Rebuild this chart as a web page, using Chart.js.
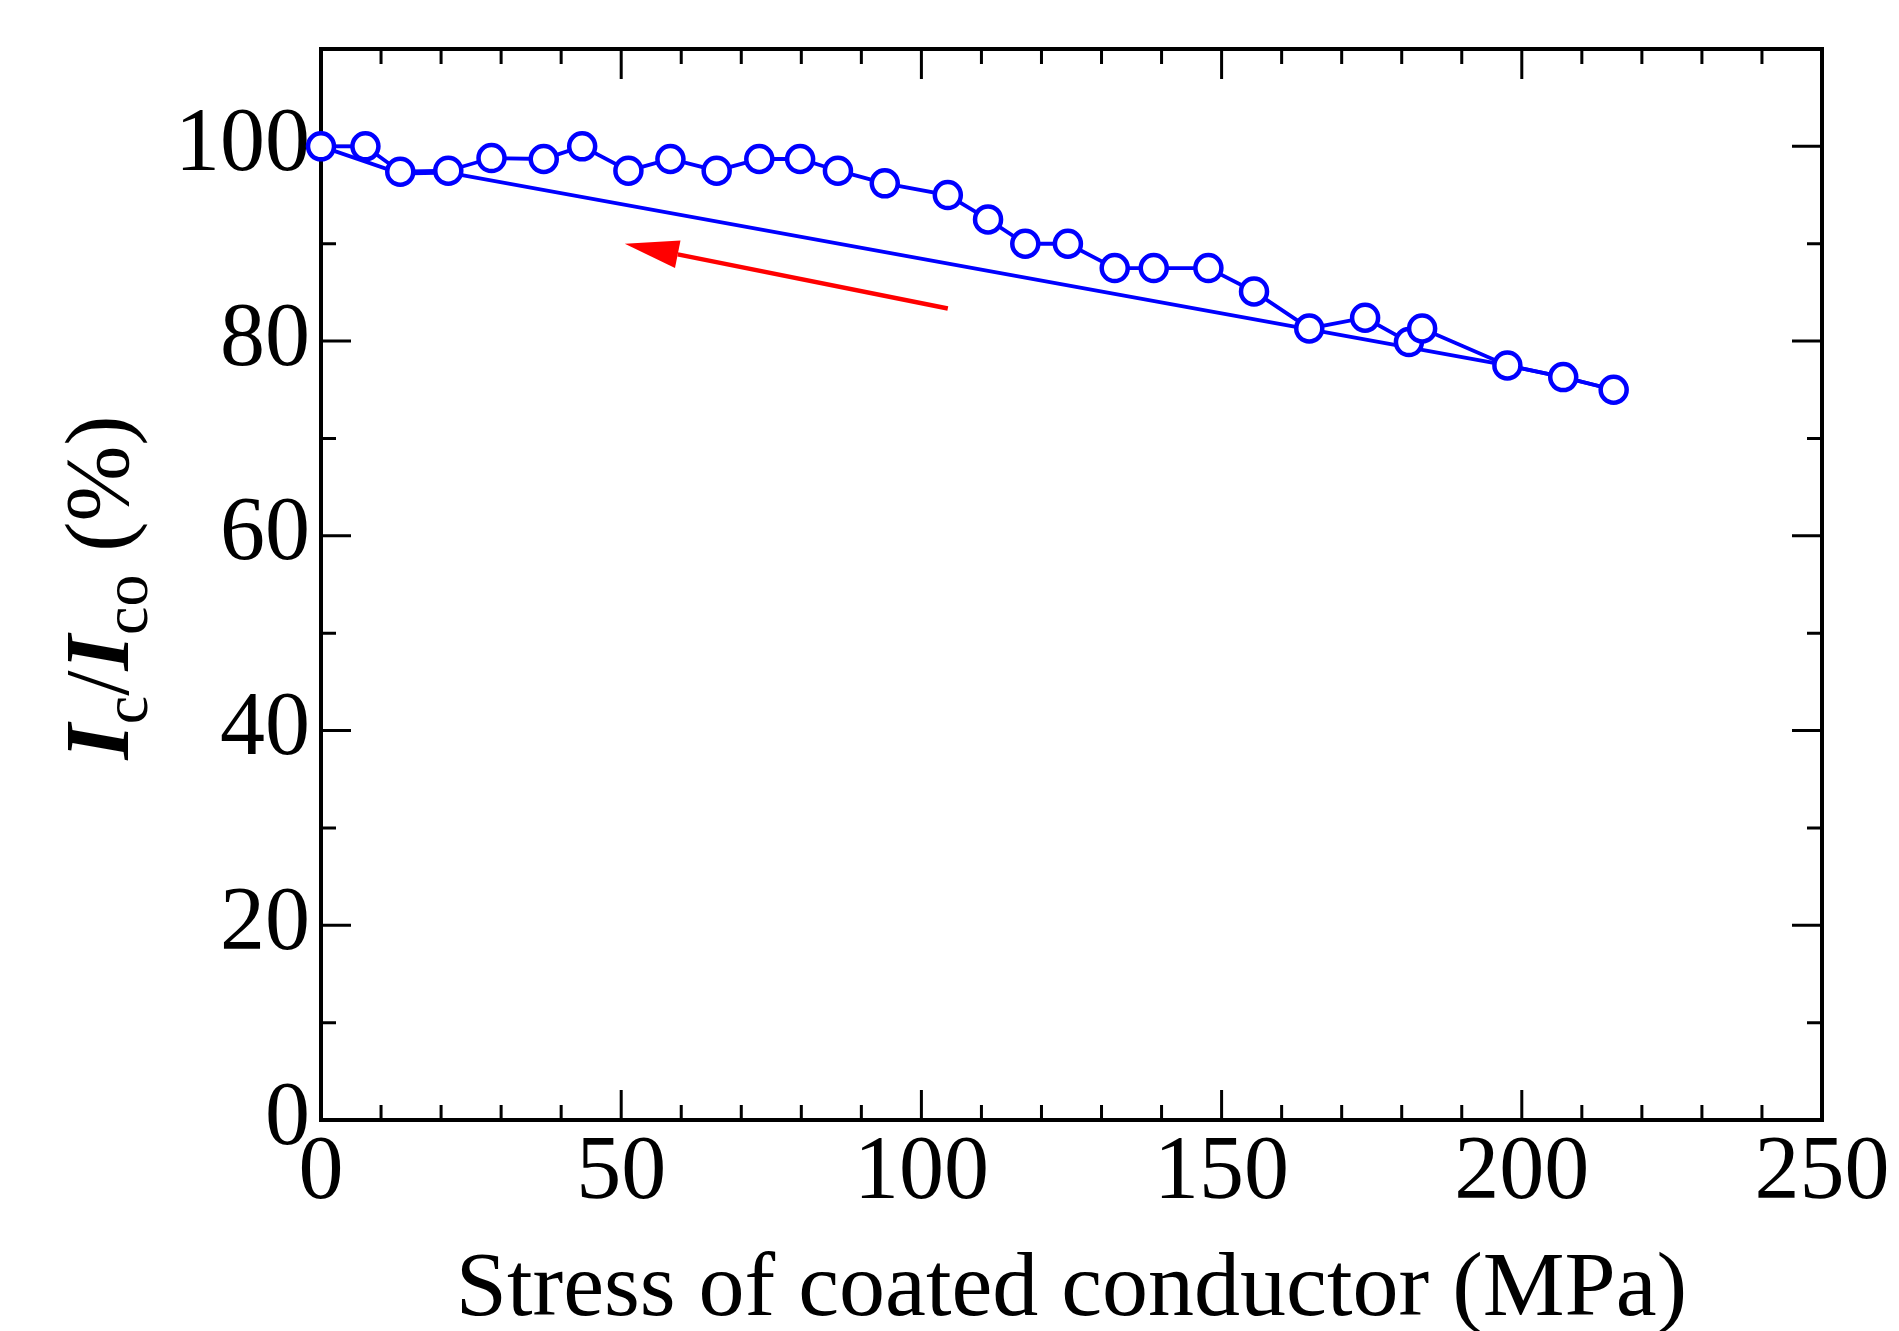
<!DOCTYPE html>
<html lang="en">
<head>
<meta charset="UTF-8">
<title>Ic/Ico vs stress of coated conductor</title>
<script src="https://cdn.jsdelivr.net/npm/chart.js"></script>
<style>
    html, body { margin: 0; padding: 0; background: #fff; overflow: hidden; }
    #chart { display: block; }
</style>
</head>
<body>
<canvas id="chart" width="1899" height="1331"></canvas>
<script>
    // loading branch (circles)
    const loadStress = [0, 7.4, 13.2, 21.2, 28.4, 37.1, 43.5, 51.2, 58.2, 65.9,
                        73.0, 79.8, 86.1, 93.9, 104.4, 111.1, 117.3, 124.4, 132.2, 138.7,
                        147.8, 155.4, 164.6, 173.9, 181.2, 183.4, 197.6, 206.9, 215.3];
    const loadIc = [100, 100, 97.4, 97.5, 98.8, 98.7, 100, 97.5, 98.7, 97.5,
                    98.7, 98.7, 97.5, 96.2, 95.0, 92.5, 90.0, 90.0, 87.5, 87.5,
                    87.5, 85.1, 81.3, 82.4, 79.9, 81.3, 77.5, 76.3, 75.0];
    // unloading branch (line only)
    const unloadStress = [215.3, 206.9, 197.6, 21.2, 13.2, 0];
    const unloadIc = [75.0, 76.3, 77.5, 97.3, 97.2, 100];

    // red arrow, in data units [stress, Ic]
    const arrowFrom = [104.4, 83.35];
    const arrowTo = [50.6, 90.0];

    const xMajorTicks = [0, 50, 100, 150, 200, 250];
    const xMinorTicks = [10, 20, 30, 40, 60, 70, 80, 90, 110, 120, 130, 140, 160, 170, 180, 190, 210, 220, 230, 240];
    const yMajorTicks = [0, 20, 40, 60, 80, 100];
    const yMinorTicks = [10, 30, 50, 70, 90];

    const serif = '"Liberation Serif", "Times New Roman", serif';

    // box with inward ticks on all four sides
    const frameTicks = {
        id: 'frameTicks',
        beforeDatasetsDraw(chart) {
            const { ctx, chartArea: a, scales: { x, y } } = chart;
            ctx.save();
            ctx.strokeStyle = '#000';
            ctx.lineWidth = 3;
            ctx.beginPath();
            const xt = (list, len) => list.forEach(v => {
                const px = x.getPixelForValue(v);
                ctx.moveTo(px, a.bottom); ctx.lineTo(px, a.bottom - len);
                ctx.moveTo(px, a.top); ctx.lineTo(px, a.top + len);
            });
            const yt = (list, len) => list.forEach(v => {
                const py = y.getPixelForValue(v);
                ctx.moveTo(a.left, py); ctx.lineTo(a.left + len, py);
                ctx.moveTo(a.right, py); ctx.lineTo(a.right - len, py);
            });
            xt(xMajorTicks, 30); xt(xMinorTicks, 15);
            yt(yMajorTicks, 30); yt(yMinorTicks, 15);
            ctx.stroke();
            ctx.lineWidth = 4;
            ctx.strokeRect(a.left, a.top, a.right - a.left, a.bottom - a.top);
            ctx.restore();
        }
    };

    const redArrow = {
        id: 'redArrow',
        afterDatasetsDraw(chart) {
            const { ctx, scales: { x, y } } = chart;
            const x0 = x.getPixelForValue(arrowFrom[0]), y0 = y.getPixelForValue(arrowFrom[1]);
            const x1 = x.getPixelForValue(arrowTo[0]), y1 = y.getPixelForValue(arrowTo[1]);
            const ang = Math.atan2(y1 - y0, x1 - x0);
            const headLen = 54, headHalf = 14;
            const bx = x1 - headLen * Math.cos(ang), by = y1 - headLen * Math.sin(ang);
            ctx.save();
            ctx.strokeStyle = '#ff0000';
            ctx.fillStyle = '#ff0000';
            ctx.lineWidth = 4.5;
            ctx.beginPath();
            ctx.moveTo(x0, y0);
            ctx.lineTo(bx, by);
            ctx.stroke();
            ctx.beginPath();
            ctx.moveTo(x1, y1);
            ctx.lineTo(bx + headHalf * Math.sin(ang), by - headHalf * Math.cos(ang));
            ctx.lineTo(bx - headHalf * Math.sin(ang), by + headHalf * Math.cos(ang));
            ctx.closePath();
            ctx.fill();
            ctx.restore();
        }
    };

    // y title with italic I and subscripts: I_c/I_co (%)
    const yTitle = {
        id: 'yTitle',
        afterDraw(chart) {
            const { ctx, chartArea: a } = chart;
            const parts = [
                { t: 'I', f: 'italic bold 91px ' + serif, dy: 0 },
                { t: 'c', f: '64px ' + serif, dy: 19 },
                { t: '/', f: '91px ' + serif, dy: 0 },
                { t: 'I', f: 'italic bold 91px ' + serif, dy: 0 },
                { t: 'co', f: '64px ' + serif, dy: 19 },
                { t: ' (%)', f: '91px ' + serif, dy: 0 }
            ];
            ctx.save();
            let total = 0;
            parts.forEach(p => { ctx.font = p.f; p.w = ctx.measureText(p.t).width; total += p.w; });
            ctx.translate(128, (a.top + a.bottom) / 2 + 3);
            ctx.rotate(-Math.PI / 2);
            ctx.fillStyle = '#000';
            ctx.textBaseline = 'alphabetic';
            let cx = -total / 2;
            parts.forEach(p => {
                ctx.font = p.f;
                ctx.fillText(p.t, cx, p.dy);
                cx += p.w;
            });
            ctx.restore();
        }
    };

    const ctx = document.getElementById('chart').getContext('2d');
    new Chart(ctx, {
        type: 'scatter',
        data: {
            datasets: [{
                label: 'loading',
                data: loadStress.map((s, i) => ({ x: s, y: loadIc[i] })),
                showLine: true,
                borderColor: '#0000ff',
                borderWidth: 3.8,
                pointRadius: 13,
                pointBorderWidth: 4.5,
                pointBackgroundColor: '#ffffff',
                pointBorderColor: '#0000ff',
                clip: false,
                order: 0
            }, {
                label: 'unloading',
                data: unloadStress.map((s, i) => ({ x: s, y: unloadIc[i] })),
                showLine: true,
                borderColor: '#0000ff',
                borderWidth: 3.8,
                pointRadius: 0,
                clip: false,
                order: 1
            }]
        },
        options: {
            responsive: false,
            animation: false,
            devicePixelRatio: 1,
            layout: { padding: { top: 49, right: 77, bottom: 0, left: 0 } },
            plugins: { legend: { display: false }, tooltip: { enabled: false } },
            scales: {
                x: {
                    type: 'linear',
                    min: 0,
                    max: 250,
                    grid: { display: false, drawTicks: false },
                    border: { display: false },
                    ticks: { color: '#000', font: { family: serif, size: 90 }, padding: 0 },
                    afterBuildTicks: s => { s.ticks = xMajorTicks.map(v => ({ value: v })); },
                    afterFit: s => { s.height = 211; s.paddingLeft = 0; s.paddingRight = 0; },
                    title: {
                        display: true,
                        text: 'Stress of coated conductor (MPa)',
                        color: '#000',
                        font: { family: serif, size: 92 },
                        padding: { top: 0, bottom: -15 }
                    }
                },
                y: {
                    type: 'linear',
                    min: 0,
                    max: 110,
                    grid: { display: false, drawTicks: false },
                    border: { display: false },
                    ticks: { color: '#000', font: { family: serif, size: 90 }, padding: 11 },
                    afterBuildTicks: s => { s.ticks = yMajorTicks.map(v => ({ value: v })); },
                    afterFit: s => { s.width = 321; s.paddingTop = 0; s.paddingBottom = 0; }
                }
            }
        },
        plugins: [frameTicks, redArrow, yTitle]
    });
</script>
</body>
</html>
